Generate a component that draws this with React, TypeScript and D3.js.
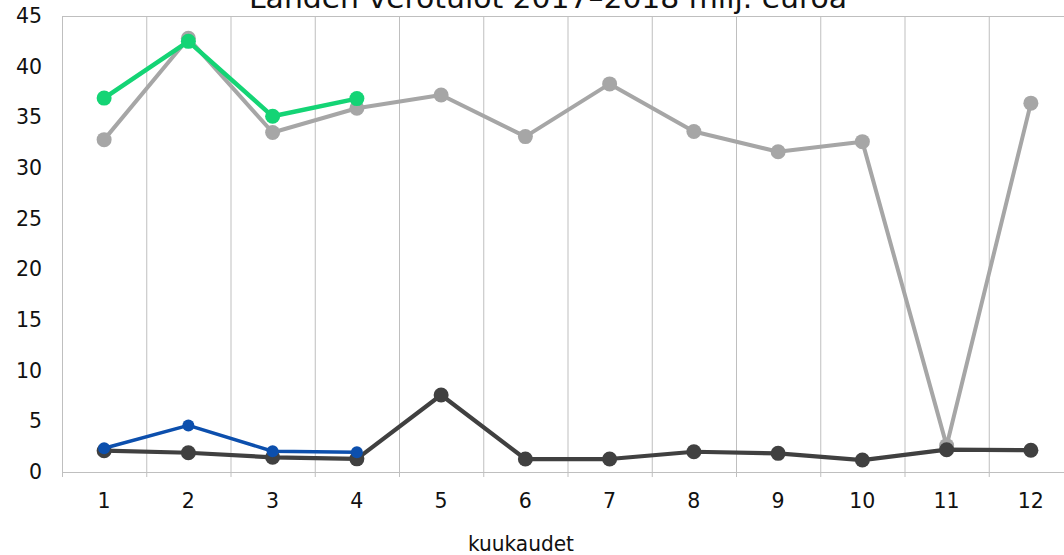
import React from "react";
import * as d3 from "d3";

const months = ["1", "2", "3", "4", "5", "6", "7", "8", "9", "10", "11", "12"];
const yTicks = [0, 5, 10, 15, 20, 25, 30, 35, 40, 45];
const gray2017 = [32.8, 42.8, 33.5, 35.9, 37.2, 33.1, 38.3, 33.6, 31.6, 32.6, 2.6, 36.4];
const dark2017 = [2.1, 1.9, 1.45, 1.3, 7.6, 1.28, 1.28, 2.0, 1.84, 1.18, 2.2, 2.15];
const green2018 = [36.9, 42.5, 35.1, 36.85];
const blue2018 = [2.35, 4.6, 2.05, 1.95];

const W = 1064;
const H = 555;
const left = 62;
const top = 16;
const bottom = 472;
const step = 84.25;

const x = d3.scaleBand<string>().domain(months).range([left, left + step * 12]).paddingInner(0).paddingOuter(0);
const y = d3.scaleLinear().domain([0, 45]).range([bottom, top]);
const cx = (i: number) => (x(months[i]) as number) + x.bandwidth() / 2;

const line = d3
  .line<number>()
  .x((_, i) => cx(i))
  .y((d) => y(d));

const series = [
  { data: gray2017, color: "#a6a6a6", width: 4, r: 7.5 },
  { data: dark2017, color: "#404040", width: 4.2, r: 7.5 },
  { data: green2018, color: "#14d475", width: 4.5, r: 7.5 },
  { data: blue2018, color: "#0c4fad", width: 3.5, r: 6 },
];

export default function App() {
  const tickFont = "'DejaVu Sans', Verdana, sans-serif";
  const narrow = "'Liberation Sans Narrow', 'DejaVu Sans Condensed', sans-serif";
  return (
    <svg
      width={W}
      height={H}
      style={{ position: "absolute", left: 0, top: 0, background: "#fff" }}
    >
      <rect x={0} y={0} width={W} height={H} fill="#fff" />
      {months.map((m) => (
        <line
          key={"g" + m}
          x1={(x(m) as number) + 0.5}
          x2={(x(m) as number) + 0.5}
          y1={top}
          y2={bottom + 5}
          stroke="#bfbfbf"
          strokeWidth={1}
        />
      ))}
      <line x1={left} x2={W} y1={top + 0.5} y2={top + 0.5} stroke="#bfbfbf" strokeWidth={1} />
      <line x1={left} x2={W} y1={bottom + 0.5} y2={bottom + 0.5} stroke="#bfbfbf" strokeWidth={1} />
      {yTicks.map((t) => (
        <text
          key={"y" + t}
          x={42}
          y={y(t)}
          textAnchor="end"
          dominantBaseline="central"
          fontFamily={tickFont}
          fontSize={20.5}
          fill="#111"
        >
          {t}
        </text>
      ))}
      {months.map((m, i) => (
        <text
          key={"x" + m}
          x={cx(i)}
          y={501}
          textAnchor="middle"
          dominantBaseline="central"
          fontFamily={tickFont}
          fontSize={20.5}
          fill="#111"
        >
          {m}
        </text>
      ))}
      {series.map((s, si) => (
        <g key={"s" + si}>
          <path d={line(s.data) || ""} fill="none" stroke={s.color} strokeWidth={s.width} strokeLinejoin="round" />
          {s.data.map((v, i) => (
            <circle key={i} cx={cx(i)} cy={y(v)} r={s.r} fill={s.color} />
          ))}
        </g>
      ))}
      <text
        x={548}
        y={8}
        textAnchor="middle"
        fontFamily={narrow}
        fontSize={28}
        fill="#111"
        textLength={598}
        lengthAdjust="spacingAndGlyphs"
      >
        Lahden verotulot 2017–2018 milj. euroa
      </text>
      <text
        x={521}
        y={551}
        textAnchor="middle"
        fontFamily={narrow}
        fontSize={21}
        fill="#111"
        textLength={106}
        lengthAdjust="spacingAndGlyphs"
      >
        kuukaudet
      </text>
    </svg>
  );
}
